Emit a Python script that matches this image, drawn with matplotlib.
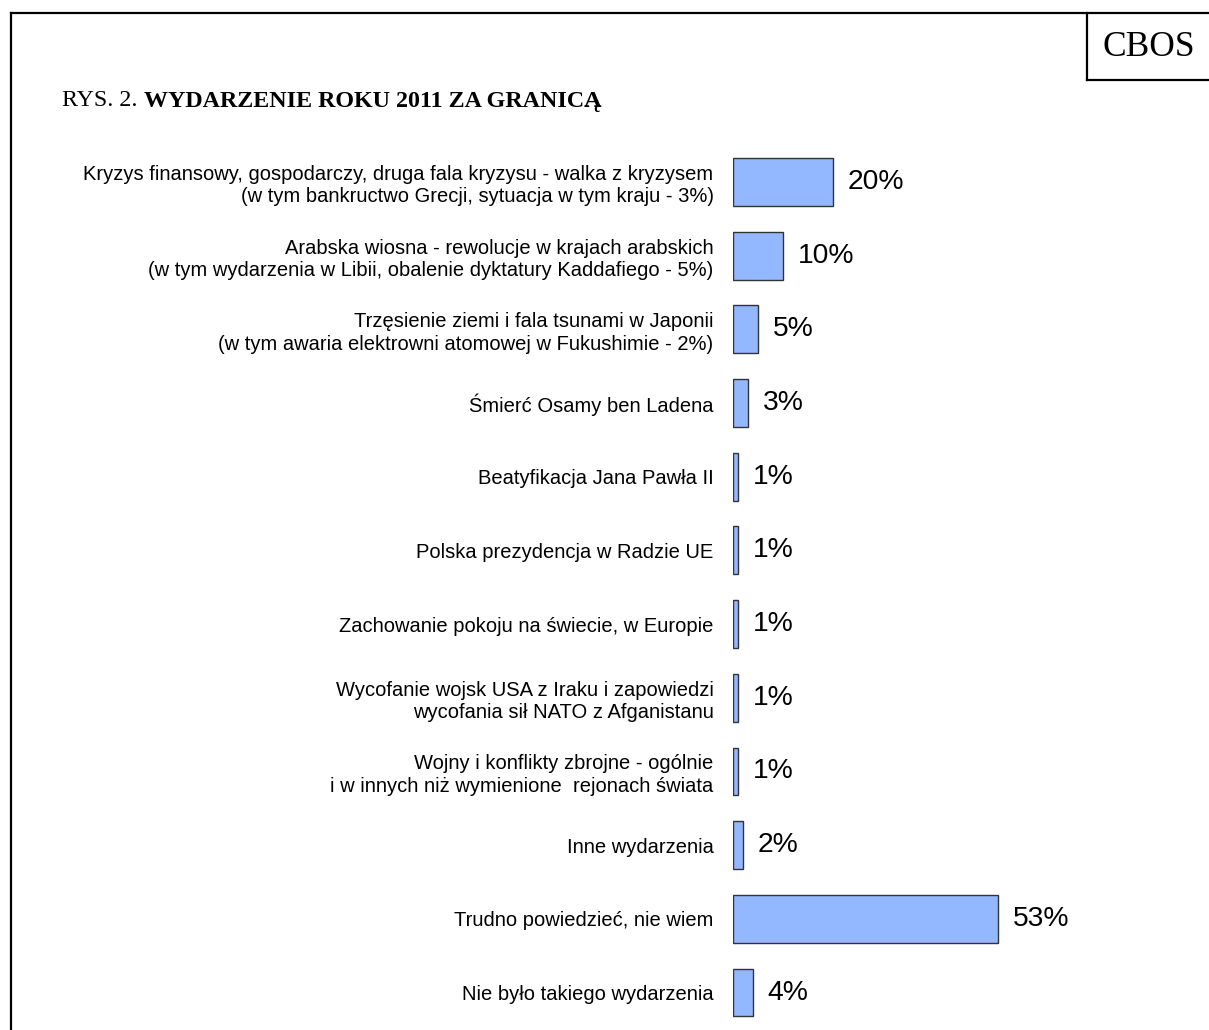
import matplotlib
matplotlib.use("Agg")
import matplotlib.pyplot as plt
from matplotlib.lines import Line2D

categories = [
    "Kryzys finansowy, gospodarczy, druga fala kryzysu - walka z kryzysem\n(w tym bankructwo Grecji, sytuacja w tym kraju - 3%)",
    "Arabska wiosna - rewolucje w krajach arabskich\n(w tym wydarzenia w Libii, obalenie dyktatury Kaddafiego - 5%)",
    "Trzęsienie ziemi i fala tsunami w Japonii\n(w tym awaria elektrowni atomowej w Fukushimie - 2%)",
    "Śmierć Osamy ben Ladena",
    "Beatyfikacja Jana Pawła II",
    "Polska prezydencja w Radzie UE",
    "Zachowanie pokoju na świecie, w Europie",
    "Wycofanie wojsk USA z Iraku i zapowiedzi\nwycofania sił NATO z Afganistanu",
    "Wojny i konflikty zbrojne - ogólnie\ni w innych niż wymienione  rejonach świata",
    "Inne wydarzenia",
    "Trudno powiedzieć, nie wiem",
    "Nie było takiego wydarzenia",
]
values = [20, 10, 5, 3, 1, 1, 1, 1, 1, 2, 53, 4]
value_labels = ["20%", "10%", "5%", "3%", "1%", "1%", "1%", "1%", "1%", "2%", "53%", "4%"]
title_plain = "RYS. 2. "
title_bold = "WYDARZENIE ROKU 2011 ZA GRANICĄ"
source = "CBOS"

W, H = 1209, 1030
fig = plt.figure(figsize=(W / 100, H / 100), dpi=100)
fig.patch.set_facecolor("white")

# axes in pixel geometry
ax_left, ax_right = 733, 1133  # 400 px -> 80 %
ax_top, ax_bottom = 145.15, 1029.35
ax = fig.add_axes([ax_left / W, 1 - ax_bottom / H, (ax_right - ax_left) / W, (ax_bottom - ax_top) / H])
ax.set_xlim(0, 80)
ax.set_ylim(len(values) - 0.5, -0.5)
ypos = list(range(len(values)))
ax.barh(ypos, values, height=0.65, color="#94B8FF", edgecolor="#333333", linewidth=1.0)
for y, v, lab in zip(ypos, values, value_labels):
    ax.annotate(lab, (v, y), xytext=(10.5, 0), textcoords="offset points",
                ha="left", va="center", fontsize=20.3, family="Liberation Sans", color="black")
ax.set_yticks(ypos)
ax.set_yticklabels(categories, fontsize=14.5, family="Liberation Sans", ha="right", linespacing=1.22)
ax.tick_params(axis="y", length=0, pad=14)
ax.set_xticks([])
for s in ax.spines.values():
    s.set_visible(False)
ax.patch.set_alpha(0)

# frame lines
def px_line(x0, y0, x1, y1):
    fig.add_artist(Line2D([x0 / W, x1 / W], [1 - y0 / H, 1 - y1 / H], color="black", linewidth=1.6,
                          transform=fig.transFigure, solid_capstyle="projecting"))

px_line(11, 13, W + 2, 13)
px_line(11, 13, 11, H + 2)
px_line(1087, 13, 1087, 80)
px_line(1087, 80, W + 2, 80)

fig.text(1149 / W, 1 - 48 / H, source, ha="center", va="center", fontsize=25.5, family="Liberation Serif")

t1 = fig.text(62 / W, 1 - 101 / H, title_plain, ha="left", va="center", fontsize=17.3, family="Liberation Serif")
fig.canvas.draw()
bb = t1.get_window_extent(renderer=fig.canvas.get_renderer())
fig.text(bb.x1 / W, 1 - 101 / H, title_bold, ha="left", va="center", fontsize=17.3,
         family="Liberation Serif", fontweight="bold")

fig.savefig("out.png", dpi=100, facecolor="white")
